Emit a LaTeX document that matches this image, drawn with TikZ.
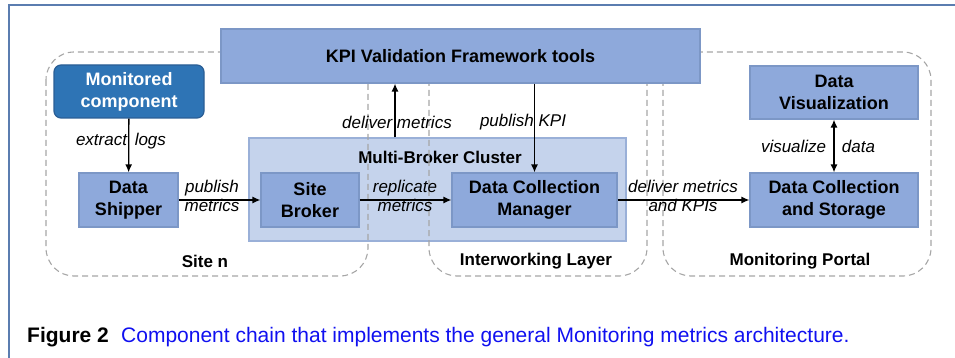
\documentclass[tikz,border=0pt]{standalone}
\usepackage{fontspec}
\setmainfont{Liberation Sans}
\usetikzlibrary{arrows.meta}
\definecolor{boxfill}{HTML}{8EA9DB}
\definecolor{boxdraw}{HTML}{7C97C6}
\definecolor{monfill}{HTML}{2E74B5}
\definecolor{mondraw}{HTML}{2A5E95}
\definecolor{clfill}{HTML}{C5D3EC}
\definecolor{cldraw}{HTML}{9AB0D8}
\definecolor{regcol}{HTML}{A6A6A6}
\definecolor{framecol}{HTML}{5B7DB0}
\definecolor{capblue}{HTML}{1010F0}
\tikzset{
  box/.style={draw=boxdraw, fill=boxfill, line width=1.2pt, align=center, inner sep=0pt,
    font=\fontsize{18}{22}\selectfont\bfseries},
  monbox/.style={draw=mondraw, fill=monfill, line width=1.2pt, rounded corners=7pt, align=center,
    inner sep=0pt, text=white, font=\fontsize{18}{22}\selectfont\bfseries},
  region/.style={draw=regcol, line width=1.1pt, dash pattern=on 6pt off 4pt, rounded corners=28pt},
  reglabel/.style={font=\fontsize{17}{20}\selectfont\bfseries},
  lbl/.style={font=\fontsize{17}{19.5}\selectfont\itshape, align=center, inner sep=0pt},
  arr/.style={draw=black, line width=1.3pt, -{Latex[length=8pt,width=7pt]}},
  darr/.style={draw=black, line width=1.3pt, {Latex[length=8pt,width=7pt]}-{Latex[length=8pt,width=7pt]}}
}
\begin{document}
\begin{tikzpicture}[x=1pt,y=-1pt]
\useasboundingbox (0,0) rectangle (955,358);
% frame
\draw[framecol, line width=1.3pt] (9,358) -- (9,5) -- (955,5);
% cluster
\node[draw=cldraw, fill=clfill, line width=1.2pt, minimum width=377pt, minimum height=103pt, inner sep=0pt] (cluster) at (437.5,189.5) {};
\node[reglabel] (cltitle) at (440,157.5) {Multi-Broker Cluster};
% regions
\draw[region] (46,52) rectangle (368,276);
\draw[region] (429,52) rectangle (647,276);
\draw[region] (663,52) rectangle (931,276);
\node[reglabel] (lsite) at (205,261) {Site n};
\node[reglabel] (lint) at (536,261) {Interworking Layer};
\node[reglabel] (lmp) at (800,261) {Monitoring Portal};
% nodes
\node[box, minimum width=479pt, minimum height=54pt] (kpi) at (460.5,56) {KPI Validation Framework tools};
\node[monbox, minimum width=150pt, minimum height=53pt] (mon) at (129,91.5) {Monitored\\component};
\node[box, minimum width=99pt, minimum height=54pt] (ship) at (128.5,200) {Data\\Shipper};
\node[box, minimum width=98pt, minimum height=54pt] (sbrk) at (310,200) {Site\\Broker};
\node[box, minimum width=165pt, minimum height=54pt] (dcm) at (534.5,200) {Data Collection\\Manager};
\node[box, minimum width=168pt, minimum height=54pt] (dcs) at (834,200) {Data Collection\\and Storage};
\node[box, minimum width=168pt, minimum height=53pt] (dviz) at (834,92.5) {Data\\Visualization};
% connectors
\coordinate (dm) at (395,0);
\draw[arr] (mon) -- (ship);
\draw[arr] (ship) -- (sbrk);
\draw[arr] (sbrk) -- (dcm);
\draw[arr] (cluster.north -| dm) -- (kpi.south -| dm);
\draw[arr] (kpi.south -| dcm.north) -- (dcm.north);
\draw[arr] (dcm) -- (dcs);
\draw[darr] (dviz) -- (dcs);
% labels
\node[lbl] (l1) at (121,141) {extract\hspace{3pt} logs};
\node[lbl] (l2) at (212,196) {publish\\metrics};
\node[lbl] (l3) at (405,196) {replicate\\metrics};
\node[lbl] (l4) at (397,122) {deliver metrics};
\node[lbl] (l5) at (523,122) {publish KPI};
\node[lbl] (l6) at (683,196) {deliver metrics\\and KPIs};
\node[lbl] (l7) at (818,146) {visualize\hspace{11pt} data};
% caption
\node[anchor=base west, inner sep=0pt, font=\fontsize{21}{24}\selectfont\bfseries] (capfig) at (27,342) {Figure 2};
\node[anchor=base west, inner sep=0pt, text=capblue, font=\fontsize{21}{24}\selectfont] (captext) at (121,342) {Component chain that implements the general Monitoring metrics architecture.};
\end{tikzpicture}
\end{document}
